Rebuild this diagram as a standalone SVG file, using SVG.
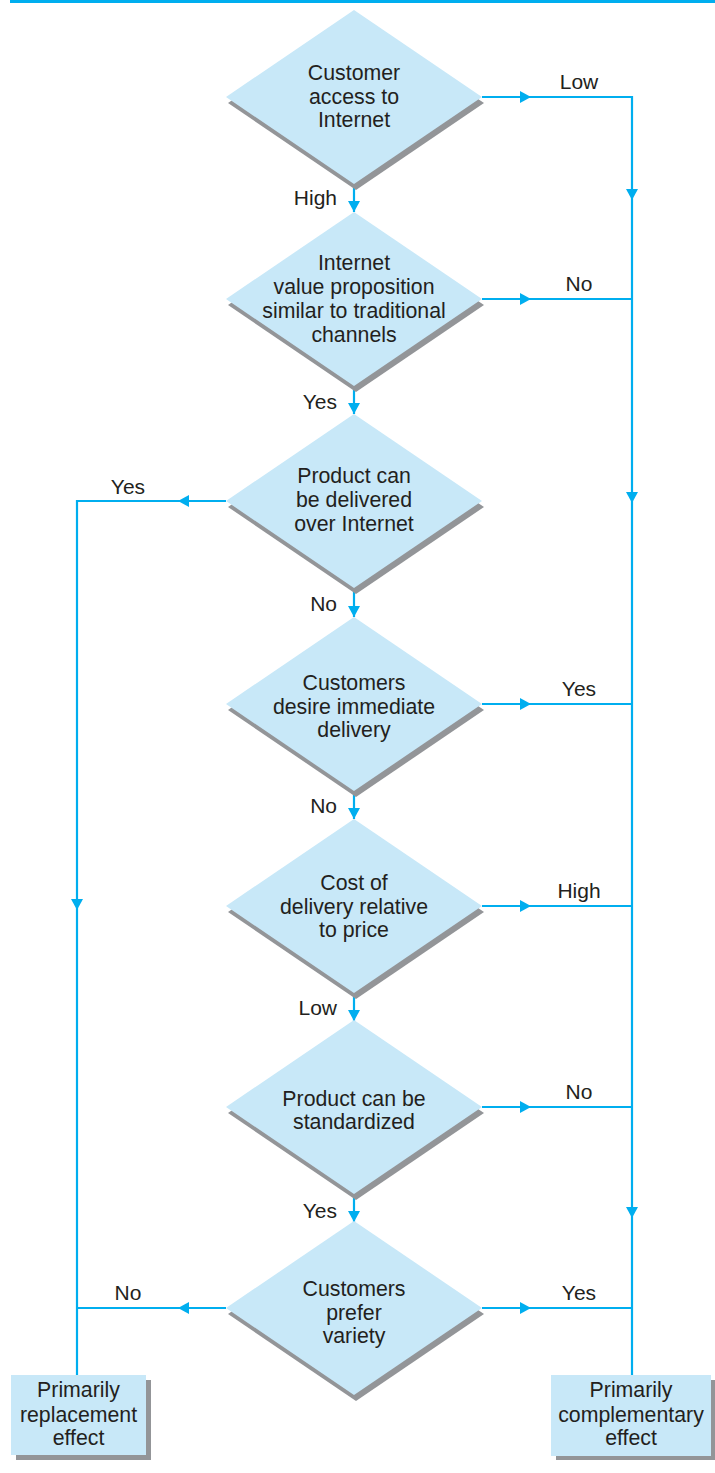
<svg xmlns="http://www.w3.org/2000/svg" xmlns:xlink="http://www.w3.org/1999/xlink" width="715" height="1473" viewBox="0 0 715 1473">
<style>
.d{fill:#c8e8f8}
.sh{fill:#939598}
.t{font-family:"Liberation Sans",Arial,sans-serif;font-size:21.3px;fill:#231f20;text-anchor:middle}
.l{font-family:"Liberation Sans",Arial,sans-serif;font-size:21px;fill:#231f20}
.c{fill:none;stroke:#00aeef;stroke-width:2.2}
.a{fill:#00aeef}
</style>
<defs>
<path id="dia" d="M0,-87 L128,0 L0,87 L-128,0 Z"/>
<path id="ar" d="M0,0 L-11,-6 L-11,6 Z"/>
</defs>
<rect x="10" y="0" width="705" height="3" fill="#00aeef"/>

<g id="connectors">
<path class="c" d="M354,184 V212 M354,386 V414 M354,588 V617 M354,791 V819 M354,993 V1021 M354,1194 V1222"/>
<path class="c" d="M482,97 H632 V1375 M482,299 H632 M482,704 H632 M482,906 H632 M482,1107 H632 M482,1308 H632"/>
<path class="c" d="M226,501 H77 V1375 M226,1308 H77"/>
<g class="a">
<use xlink:href="#ar" transform="translate(354,212) rotate(90)"/>
<use xlink:href="#ar" transform="translate(354,414) rotate(90)"/>
<use xlink:href="#ar" transform="translate(354,617) rotate(90)"/>
<use xlink:href="#ar" transform="translate(354,819) rotate(90)"/>
<use xlink:href="#ar" transform="translate(354,1021) rotate(90)"/>
<use xlink:href="#ar" transform="translate(354,1222) rotate(90)"/>
<use xlink:href="#ar" transform="translate(531,97)"/>
<use xlink:href="#ar" transform="translate(531,299)"/>
<use xlink:href="#ar" transform="translate(531,704)"/>
<use xlink:href="#ar" transform="translate(531,906)"/>
<use xlink:href="#ar" transform="translate(531,1107)"/>
<use xlink:href="#ar" transform="translate(531,1308)"/>
<use xlink:href="#ar" transform="translate(632,200) rotate(90)"/>
<use xlink:href="#ar" transform="translate(632,503) rotate(90)"/>
<use xlink:href="#ar" transform="translate(632,1218) rotate(90)"/>
<use xlink:href="#ar" transform="translate(178,501) rotate(180)"/>
<use xlink:href="#ar" transform="translate(178,1308) rotate(180)"/>
<use xlink:href="#ar" transform="translate(77,910) rotate(90)"/>
</g>
<g class="l" text-anchor="end">
<text x="337" y="205">High</text>
<text x="337" y="409">Yes</text>
<text x="337" y="611">No</text>
<text x="337" y="813">No</text>
<text x="337" y="1015">Low</text>
<text x="337" y="1218">Yes</text>
</g>
<g class="l" text-anchor="middle">
<text x="579" y="89">Low</text>
<text x="579" y="291">No</text>
<text x="579" y="696">Yes</text>
<text x="579" y="898">High</text>
<text x="579" y="1099">No</text>
<text x="579" y="1300">Yes</text>
<text x="128" y="494">Yes</text>
<text x="128" y="1300">No</text>
</g>
</g>

<g id="n1">
<use xlink:href="#dia" class="sh" transform="translate(356,103)"/>
<use xlink:href="#dia" class="d" transform="translate(354,97)"/>
<text class="t"><tspan x="354" y="80">Customer</tspan><tspan x="354" y="104">access to</tspan><tspan x="354" y="127">Internet</tspan></text>
</g>
<g id="n2">
<use xlink:href="#dia" class="sh" transform="translate(356,305)"/>
<use xlink:href="#dia" class="d" transform="translate(354,299)"/>
<text class="t"><tspan x="354" y="270">Internet</tspan><tspan x="354" y="294">value proposition</tspan><tspan x="354" y="318">similar to traditional</tspan><tspan x="354" y="342">channels</tspan></text>
</g>
<g id="n3">
<use xlink:href="#dia" class="sh" transform="translate(356,507)"/>
<use xlink:href="#dia" class="d" transform="translate(354,501)"/>
<text class="t"><tspan x="354" y="483">Product can</tspan><tspan x="354" y="507">be delivered</tspan><tspan x="354" y="531">over Internet</tspan></text>
</g>
<g id="n4">
<use xlink:href="#dia" class="sh" transform="translate(356,710)"/>
<use xlink:href="#dia" class="d" transform="translate(354,704)"/>
<text class="t"><tspan x="354" y="690">Customers</tspan><tspan x="354" y="714">desire immediate</tspan><tspan x="354" y="737">delivery</tspan></text>
</g>
<g id="n5">
<use xlink:href="#dia" class="sh" transform="translate(356,912)"/>
<use xlink:href="#dia" class="d" transform="translate(354,906)"/>
<text class="t"><tspan x="354" y="890">Cost of</tspan><tspan x="354" y="914">delivery relative</tspan><tspan x="354" y="937">to price</tspan></text>
</g>
<g id="n6">
<use xlink:href="#dia" class="sh" transform="translate(356,1113)"/>
<use xlink:href="#dia" class="d" transform="translate(354,1107)"/>
<text class="t"><tspan x="354" y="1106">Product can be</tspan><tspan x="354" y="1129">standardized</tspan></text>
</g>
<g id="n7">
<use xlink:href="#dia" class="sh" transform="translate(356,1314)"/>
<use xlink:href="#dia" class="d" transform="translate(354,1308)"/>
<text class="t"><tspan x="354" y="1296">Customers</tspan><tspan x="354" y="1320">prefer</tspan><tspan x="354" y="1343">variety</tspan></text>
</g>
<g id="n8">
<rect class="sh" x="16" y="1380" width="135" height="80"/>
<rect class="d" x="11" y="1375" width="135" height="80"/>
<text class="t"><tspan x="78.5" y="1397">Primarily</tspan><tspan x="78.5" y="1422">replacement</tspan><tspan x="78.5" y="1445">effect</tspan></text>
</g>
<g id="n9">
<rect class="sh" x="556" y="1380" width="160" height="80"/>
<rect class="d" x="551" y="1375" width="160" height="81"/>
<text class="t"><tspan x="631" y="1397">Primarily</tspan><tspan x="631" y="1422">complementary</tspan><tspan x="631" y="1445">effect</tspan></text>
</g>
</svg>
